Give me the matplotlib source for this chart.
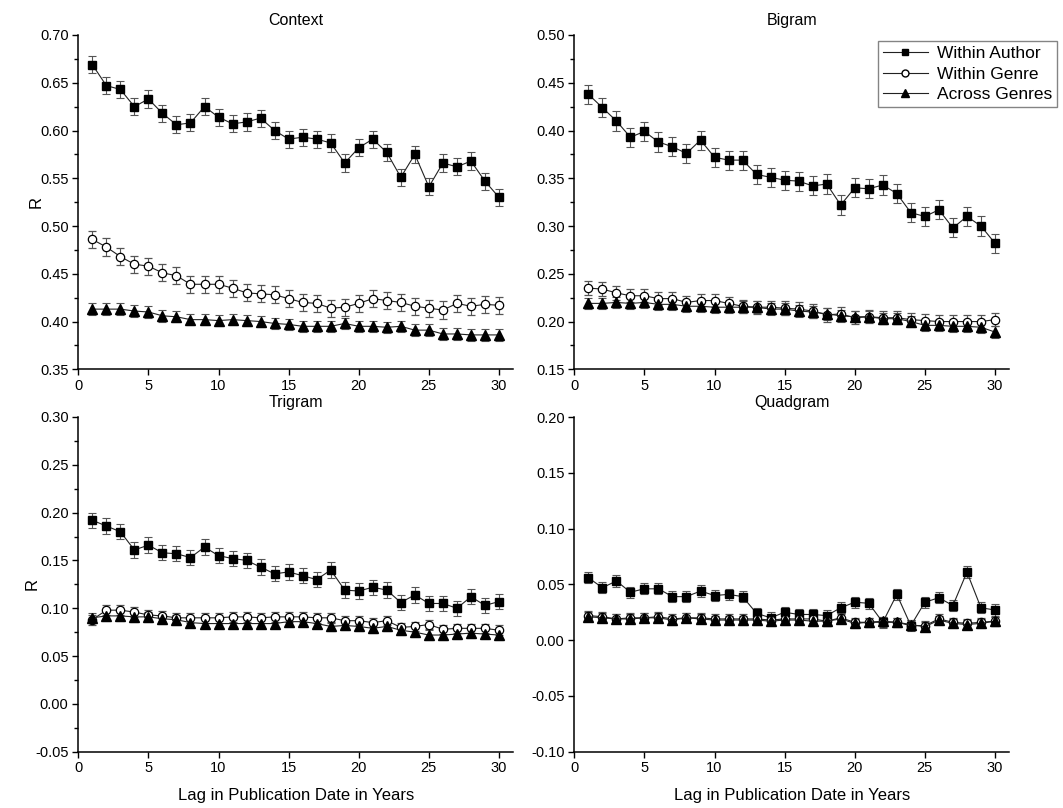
import matplotlib
matplotlib.use('Agg')
import matplotlib.pyplot as plt
from matplotlib.ticker import MultipleLocator, FormatStrFormatter
from matplotlib.lines import Line2D

plt.rcParams['font.family'] = ['Liberation Sans', 'DejaVu Sans']

lags = list(range(1, 31))

# Context
ctx_author = [0.669, 0.647, 0.643, 0.625, 0.633, 0.618, 0.606, 0.608, 0.625, 0.614,
              0.607, 0.609, 0.613, 0.600, 0.591, 0.593, 0.591, 0.587, 0.566, 0.582,
              0.591, 0.577, 0.551, 0.575, 0.541, 0.566, 0.562, 0.568, 0.547, 0.530]
ctx_genre = [0.486, 0.478, 0.468, 0.460, 0.458, 0.451, 0.448, 0.439, 0.439, 0.439,
             0.435, 0.430, 0.429, 0.428, 0.424, 0.420, 0.419, 0.414, 0.415, 0.419,
             0.424, 0.422, 0.420, 0.416, 0.414, 0.412, 0.419, 0.416, 0.418, 0.417]
ctx_across = [0.413, 0.413, 0.413, 0.411, 0.410, 0.406, 0.405, 0.402, 0.402, 0.401,
              0.402, 0.401, 0.400, 0.398, 0.397, 0.395, 0.395, 0.395, 0.398, 0.395,
              0.395, 0.394, 0.395, 0.391, 0.391, 0.387, 0.387, 0.386, 0.386, 0.386]

# Bigram
big_author = [0.438, 0.424, 0.410, 0.393, 0.399, 0.388, 0.383, 0.376, 0.390, 0.372,
              0.369, 0.369, 0.354, 0.351, 0.348, 0.347, 0.342, 0.344, 0.322, 0.340,
              0.339, 0.343, 0.334, 0.314, 0.310, 0.317, 0.298, 0.310, 0.300, 0.282]
big_genre = [0.235, 0.234, 0.230, 0.227, 0.227, 0.224, 0.224, 0.220, 0.222, 0.222,
             0.219, 0.216, 0.215, 0.215, 0.214, 0.213, 0.211, 0.207, 0.208, 0.204,
             0.205, 0.204, 0.204, 0.202, 0.201, 0.200, 0.200, 0.200, 0.200, 0.202]
big_across = [0.219, 0.219, 0.220, 0.219, 0.220, 0.218, 0.218, 0.216, 0.216, 0.215,
              0.215, 0.215, 0.215, 0.213, 0.213, 0.211, 0.210, 0.208, 0.206, 0.205,
              0.205, 0.203, 0.203, 0.200, 0.196, 0.196, 0.195, 0.195, 0.194, 0.189]

# Trigram
tri_author = [0.192, 0.186, 0.180, 0.161, 0.166, 0.158, 0.157, 0.153, 0.164, 0.155,
              0.152, 0.150, 0.143, 0.136, 0.138, 0.134, 0.130, 0.140, 0.119, 0.118,
              0.122, 0.119, 0.106, 0.114, 0.105, 0.105, 0.100, 0.112, 0.103, 0.107]
tri_genre = [0.088, 0.098, 0.098, 0.096, 0.093, 0.092, 0.090, 0.090, 0.090, 0.090,
             0.091, 0.091, 0.090, 0.091, 0.091, 0.091, 0.090, 0.090, 0.087, 0.087,
             0.085, 0.087, 0.080, 0.081, 0.083, 0.078, 0.079, 0.079, 0.079, 0.077]
tri_across = [0.090, 0.092, 0.092, 0.091, 0.091, 0.089, 0.088, 0.085, 0.084, 0.084,
              0.084, 0.084, 0.084, 0.084, 0.086, 0.086, 0.084, 0.081, 0.082, 0.081,
              0.079, 0.081, 0.077, 0.075, 0.072, 0.072, 0.073, 0.074, 0.073, 0.072]

# Quadgram
quad_author = [0.056, 0.047, 0.053, 0.043, 0.046, 0.046, 0.039, 0.039, 0.044, 0.040,
               0.041, 0.039, 0.024, 0.020, 0.025, 0.023, 0.023, 0.022, 0.029, 0.034,
               0.033, 0.016, 0.041, 0.013, 0.034, 0.038, 0.031, 0.061, 0.029, 0.027]
quad_genre = [0.022, 0.021, 0.019, 0.020, 0.020, 0.021, 0.019, 0.020, 0.020, 0.019,
              0.019, 0.019, 0.019, 0.018, 0.019, 0.019, 0.019, 0.017, 0.020, 0.016,
              0.016, 0.016, 0.016, 0.013, 0.013, 0.019, 0.016, 0.015, 0.016, 0.017]
quad_across = [0.021, 0.020, 0.019, 0.019, 0.020, 0.020, 0.018, 0.020, 0.019, 0.018,
               0.018, 0.018, 0.018, 0.017, 0.018, 0.018, 0.017, 0.017, 0.019, 0.015,
               0.016, 0.017, 0.016, 0.014, 0.012, 0.018, 0.015, 0.014, 0.015, 0.017]

# error bar half-widths (author, genre, across) per panel
ctx_err = [0.009, 0.009, 0.006]
big_err = [0.010, 0.007, 0.006]
tri_err = [0.008, 0.005, 0.005]
quad_err = [0.005, 0.004, 0.004]

series_labels = ['Within Author', 'Within Genre', 'Across Genres']

panels = [
    ('Context', [ctx_author, ctx_genre, ctx_across], ctx_err, (0.35, 0.70), True),
    ('Bigram', [big_author, big_genre, big_across], big_err, (0.15, 0.50), True),
    ('Trigram', [tri_author, tri_genre, tri_across], tri_err, (-0.05, 0.30), True),
    ('Quadgram', [quad_author, quad_genre, quad_across], quad_err, (-0.10, 0.20), False),
]

styles = [
    dict(marker='s', mfc='black', mec='black', ms=6),
    dict(marker='o', mfc='white', mec='black', ms=6, mew=0.9),
    dict(marker='^', mfc='black', mec='black', ms=6.5),
]

fig = plt.figure(figsize=(10.63, 8.08), dpi=100)
W, H = 1063, 808
boxes = [
    (78.3, 35, 513, 369.3),
    (574.3, 35, 1009, 369.3),
    (78.3, 417, 513, 751.7),
    (574.3, 417, 1009, 751.7),
]

for (title, data, errs, ylim, minor), (x0, y0, x1, y1), idx in zip(panels, boxes, range(4)):
    ax = fig.add_axes([x0 / W, 1 - y1 / H, (x1 - x0) / W, (y1 - y0) / H])
    for vals, err, st in zip(data, errs, styles):
        ax.errorbar(lags, vals, yerr=err, color='#222222', lw=0.8,
                    ecolor='#555555', elinewidth=0.8, capsize=3, capthick=0.8,
                    clip_on=False, **st)
    ax.set_xlim(0, 31)
    ax.set_ylim(*ylim)
    ax.xaxis.set_major_locator(MultipleLocator(5))
    ax.yaxis.set_major_locator(MultipleLocator(0.05))
    if minor:
        ax.yaxis.set_minor_locator(MultipleLocator(0.025))
    ax.yaxis.set_major_formatter(FormatStrFormatter('%.2f'))
    ax.spines['top'].set_visible(False)
    ax.spines['right'].set_visible(False)
    for s in ['left', 'bottom']:
        ax.spines[s].set_linewidth(1.1)
    ax.tick_params(which='major', direction='out', length=4, width=1.0, labelsize=10.5, pad=3)
    ax.tick_params(which='minor', direction='out', length=3, width=1.0)
    ax.set_title(title, fontsize=11.5, pad=7)
    if idx in (0, 2):
        ax.set_ylabel('R', fontsize=12, labelpad=-3)
    if idx in (2, 3):
        ax.set_xlabel('Lag in Publication Date in Years', fontsize=12, labelpad=9)

handles = [Line2D([], [], color='#222222', lw=0.8, marker=st['marker'], mfc=st['mfc'],
                  mec='black', ms=st['ms'] - 1) for st in styles]
leg = fig.legend(handles, series_labels, loc='upper left',
                 bbox_to_anchor=(877.7 / W, 1 - 41 / H), fontsize=12.5,
                 frameon=True, fancybox=False, edgecolor='#666666',
                 handlelength=2.6, handletextpad=0.5, borderpad=0.3,
                 labelspacing=0.3, borderaxespad=0)
leg.get_frame().set_linewidth(1.0)

fig.savefig('out.png', dpi=100)
